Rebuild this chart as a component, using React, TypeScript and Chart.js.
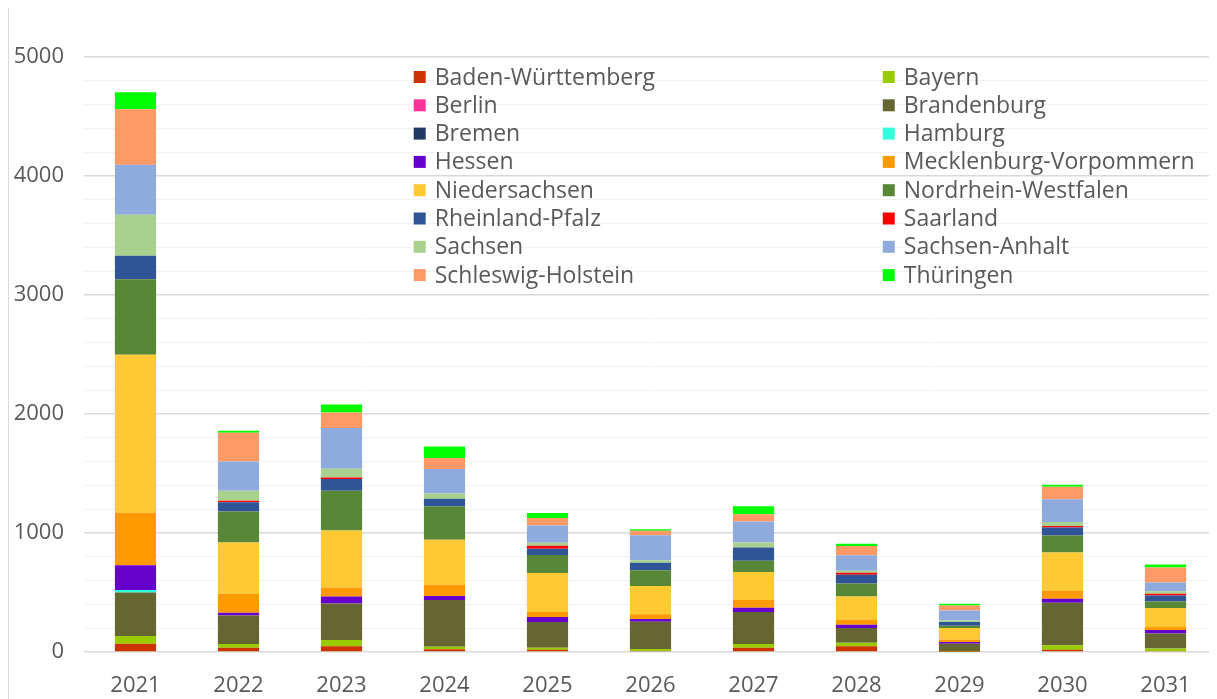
import React, { useEffect, useRef } from 'react';
import { Chart, registerables } from 'chart.js';

Chart.register(...registerables);

const FONT = '"Open Sans", sans-serif';
const TEXT_COLOR = '#595959';

const categories = ['2021', '2022', '2023', '2024', '2025', '2026', '2027', '2028', '2029', '2030', '2031'];

const badenWuerttemberg = [70, 36, 48, 23, 19, 8, 36, 48, 2, 19, 8];
const bayern = [65, 31, 53, 22, 17, 17, 31, 30, 5, 37, 22];
const berlin = [0, 0, 0, 0, 0, 0, 0, 0, 0, 0, 0];
const brandenburg = [365, 239, 306, 391, 217, 230, 270, 124, 63, 357, 125];
const bremen = [0, 0, 0, 0, 0, 0, 0, 0, 0, 0, 0];
const hamburg = [20, 0, 0, 0, 0, 0, 0, 0, 0, 0, 0];
const hessen = [208, 23, 59, 34, 42, 23, 34, 28, 14, 34, 30];
const mecklenburgVorpommern = [443, 160, 76, 95, 42, 40, 67, 42, 22, 67, 25];
const niedersachsen = [1327, 432, 478, 379, 326, 236, 234, 194, 96, 323, 160];
const nordrheinWestfalen = [635, 259, 335, 278, 152, 132, 95, 110, 19, 143, 55];
const rheinlandPfalz = [196, 78, 98, 65, 53, 65, 112, 73, 31, 67, 50];
const saarland = [0, 12, 14, 0, 25, 0, 0, 17, 0, 12, 15];
const sachsen = [346, 84, 73, 45, 25, 19, 42, 17, 13, 34, 20];
const sachsenAnhalt = [419, 247, 342, 205, 146, 211, 175, 129, 84, 190, 75];
const schleswigHolstein = [466, 242, 130, 93, 62, 37, 62, 79, 42, 105, 125];
const thueringen = [143, 17, 67, 96, 42, 13, 67, 19, 14, 17, 25];

const seriesNames = [
  'Baden-Württemberg', 'Bayern', 'Berlin', 'Brandenburg', 'Bremen', 'Hamburg', 'Hessen',
  'Mecklenburg-Vorpommern', 'Niedersachsen', 'Nordrhein-Westfalen', 'Rheinland-Pfalz',
  'Saarland', 'Sachsen', 'Sachsen-Anhalt', 'Schleswig-Holstein', 'Thüringen',
];
const seriesValues = [
  badenWuerttemberg, bayern, berlin, brandenburg, bremen, hamburg, hessen,
  mecklenburgVorpommern, niedersachsen, nordrheinWestfalen, rheinlandPfalz,
  saarland, sachsen, sachsenAnhalt, schleswigHolstein, thueringen,
];
const seriesColors = [
  '#CC3300', '#99CC00', '#FF3399', '#666633', '#1F3864', '#33FFDD', '#6600CC',
  '#FF9900', '#FFC933', '#588738', '#2F5597', '#FF0000', '#A9D18E', '#8FAADC',
  '#FF9966', '#00FF00',
];

const legendPlugin = {
  id: 'twoColumnLegend',
  afterDraw(chart: any) {
    const { ctx, chartArea } = chart;
    const w = chartArea.right - chartArea.left;
    ctx.save();
    ctx.font = `23px ${FONT}`;
    ctx.textBaseline = 'middle';
    ctx.textAlign = 'left';
    chart.data.datasets.forEach((ds: any, i: number) => {
      const row = Math.floor(i / 2);
      const col = i % 2;
      const x = chartArea.left + w * (col === 0 ? 0.291 : 0.705);
      const y = chartArea.top + 20 + row * 28.3;
      ctx.fillStyle = ds.backgroundColor;
      ctx.fillRect(x, y - 6, 12, 12);
      ctx.fillStyle = TEXT_COLOR;
      ctx.fillText(ds.label, x + 21, y + 1);
    });
    ctx.restore();
  },
};

export default function App() {
  const canvasRef = useRef<HTMLCanvasElement | null>(null);

  useEffect(() => {
    if (!canvasRef.current) return;
    const chart = new Chart(canvasRef.current, {
      type: 'bar',
      data: {
        labels: categories,
        datasets: seriesNames.map((name, i) => ({
          label: name,
          data: seriesValues[i],
          backgroundColor: seriesColors[i],
          borderWidth: 0,
          barPercentage: 0.4,
          categoryPercentage: 1.0,
        })),
      },
      options: {
        animation: false,
        responsive: true,
        maintainAspectRatio: false,
        layout: { padding: { top: 49, left: 0, right: 0, bottom: 0 } },
        plugins: {
          legend: { display: false },
          tooltip: { enabled: false },
        },
        scales: {
          x: {
            stacked: true,
            grid: { display: false },
            border: { display: false },
            ticks: { color: TEXT_COLOR, font: { family: FONT, size: 22 }, padding: 13, maxRotation: 0 },
            afterFit: (scale: any) => {
              scale.height = 47;
            },
          },
          y: {
            stacked: true,
            min: 0,
            max: 5000,
            border: { display: false },
            grid: {
              drawTicks: false,
              color: (c: any) => (c.tick && c.tick.value % 1000 === 0 ? '#D9D9D9' : '#F2F2F2'),
              lineWidth: (c: any) => (c.tick && c.tick.value % 1000 === 0 ? 1.5 : 1),
            },
            ticks: {
              stepSize: 200,
              autoSkip: false,
              color: TEXT_COLOR,
              font: { family: FONT, size: 22 },
              padding: 20,
              callback: (v: any) => (Number(v) % 1000 === 0 ? String(v) : ''),
            },
            afterFit: (scale: any) => {
              scale.width = 75;
            },
          },
        },
      },
      plugins: [legendPlugin],
    });
    return () => chart.destroy();
  }, []);

  return (
    <div style={{ position: 'relative', width: 1209, height: 691, borderLeft: '1px solid #D9D9D9', boxSizing: 'border-box' }}>
      <canvas ref={canvasRef} />
    </div>
  );
}
